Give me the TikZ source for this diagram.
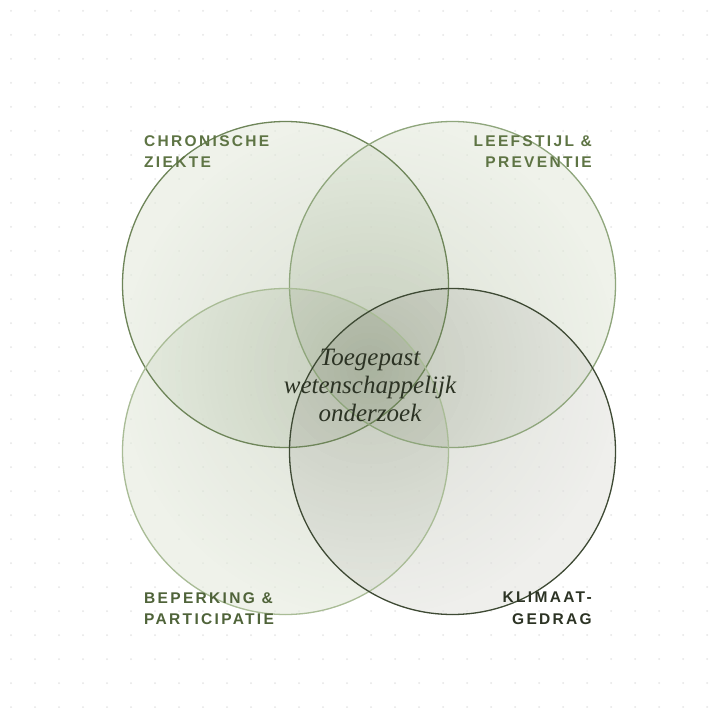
\documentclass[tikz,border=0pt]{standalone}
\usepackage{fontspec}
\setmainfont{Liberation Serif}
\newfontfamily\lblfont{Liberation Sans Bold}[LetterSpace=15]
\usetikzlibrary{fadings}
\definecolor{gridgray}{HTML}{E6E6E6}
\definecolor{sage}{HTML}{E2E9DA}
\definecolor{stone}{HTML}{E2E2DE}
\definecolor{moss}{HTML}{6E8559}
\definecolor{fern}{HTML}{8FA67C}
\definecolor{pale}{HTML}{A9BC96}
\definecolor{bark}{HTML}{3E4A34}
\definecolor{shadow}{HTML}{6F7E5E}
\definecolor{olive}{HTML}{5E7444}
\definecolor{deep}{HTML}{4F6339}
\definecolor{ink}{HTML}{2C3324}
\tikzfading[name=glow, inner color=transparent!0, outer color=transparent!100]
\tikzset{
  ring/.style={circle, minimum size=327pt, inner sep=0pt, fill opacity=.55},
  tag/.style={font=\lblfont\fontsize{15.5}{21.5}\selectfont, inner sep=0pt},
  title/.style={font=\itshape\fontsize{25}{28}\selectfont, text=ink, align=center, inner sep=0pt}
}

\begin{document}
\begin{tikzpicture}[x=1pt, y=-1pt]
    \useasboundingbox[fill=white] (0,0) rectangle (719,708);
    \foreach \i in {0,...,29}
      \foreach \j in {0,...,29}
        \fill[gridgray] (11+24*\i,11+24*\j) circle (1);

    \node[ring, fill=sage] (chron) at (285.5,284.5) {};
    \node[ring, fill=sage] (leef) at (452.5,284.5) {};
    \node[ring, fill=sage] (bep) at (285.5,451.5) {};
    \node[ring, fill=stone] (klim) at (452.5,451.5) {};

    \foreach \c in {chron, leef, bep, klim} {
      \begin{scope}
        \clip (\c.center) circle (163);
        \fill[shadow, fill opacity=.15, path fading=glow] (369,368) circle (250);
      \end{scope}
    }
    \foreach \c/\s in {chron/moss, leef/fern, bep/pale, klim/bark}
      \draw[\s, line width=1.3pt] (\c.center) circle (163);

    \node[tag, text=olive, align=left, anchor=north west] (chronlbl) at (144,135) {CHRONISCHE\\ZIEKTE};
    \node[tag, text=olive, align=right, anchor=north east] (leeflbl) at (592,135) {LEEFSTIJL \&\\PREVENTIE};
    \node[tag, text=deep, align=left, anchor=north west] (beplbl) at (144,592) {BEPERKING \&\\PARTICIPATIE};
    \node[tag, text=ink, align=right, anchor=north east] (klimlbl) at (592,592) {KLIMAAT-\\GEDRAG};

    \node[title] (core) at (370,385) {Toegepast\\wetenschappelijk\\onderzoek};
\end{tikzpicture}
\end{document}
